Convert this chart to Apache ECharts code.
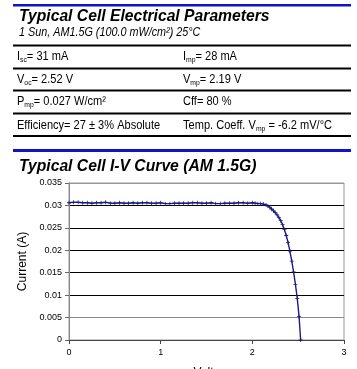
<!DOCTYPE html>
<html>
<head>
<meta charset="utf-8">
<script src="https://cdn.jsdelivr.net/npm/echarts@6/dist/echarts.min.js"></script>
<style>
html,body{margin:0;padding:0;background:#fff;}
#chart{width:357px;height:369px;}
</style>
</head>
<body>
<div id="chart"></div>
<script>
// ---- Data ----
var tableTitle = 'Typical Cell Electrical Parameters';
var tableSubtitle = '1 Sun, AM1.5G (100.0 mW/cm\u00b2) 25\u00b0C';
var leftCells = ['I{sub|sc}= 31 mA', 'V{sub|oc}= 2.52 V', 'P{sub|mp}= 0.027 W/cm\u00b2', 'Efficiency= 27 \u00b1 3% Absolute'];
var rightCells = ['I{sub|mp}= 28 mA', 'V{sub|mp}= 2.19 V', 'Cff= 80 %', 'Temp. Coeff. V{sub|mp} = -6.2 mV/\u00b0C'];
var chartTitle = 'Typical Cell I-V Curve (AM 1.5G)';
var xName = 'Volts';
var yName = 'Current (A)';

var volts = [
  0.00,0.05,0.10,0.15,0.20,0.25,0.30,0.35,0.40,0.45,
  0.50,0.55,0.60,0.65,0.70,0.75,0.80,0.85,0.90,0.95,
  1.00,1.05,1.10,1.15,1.20,1.25,1.30,1.35,1.40,1.45,
  1.50,1.55,1.60,1.65,1.70,1.75,1.80,1.85,1.90,1.95,
  2.00,2.03,2.06,2.09,2.12,2.15,2.17,2.19,2.21,2.23,
  2.25,2.27,2.29,2.31,2.33,2.35,2.37,2.39,2.41,2.43,
  2.45,2.47,2.49,2.51,2.527
];
var current = [
  0.0306,0.0307,0.0307,0.0306,0.0306,0.0305,0.0306,0.0306,0.0307,0.0305,
  0.0305,0.0306,0.0305,0.0305,0.0306,0.0305,0.0306,0.0306,0.0305,0.0305,
  0.0306,0.0304,0.0304,0.0305,0.0305,0.0305,0.0305,0.0306,0.0306,0.0305,
  0.0305,0.0306,0.0304,0.0304,0.0305,0.0305,0.0305,0.0306,0.0306,0.0305,
  0.0306,0.0305,0.0304,0.0304,0.0303,0.0301,0.0299,0.0296,0.0292,0.0288,
  0.0284,0.0279,0.0273,0.0266,0.0257,0.0246,0.0233,0.0217,0.0198,0.0176,
  0.0152,0.0124,0.0093,0.0052,0.0000
];

var FONT = 'Liberation Sans, Arial, sans-serif';
var rowY = [56.7, 79.5, 101.7, 125];
var lineY = [44.5, 67.5, 89.5, 112.5, 135];

var graphics = [];
// blue rules
graphics.push({type:'rect', shape:{x:13, y:4, width:338, height:2.5}, style:{fill:'#1212c8'}, silent:true});
graphics.push({type:'rect', shape:{x:13, y:149, width:338, height:3}, style:{fill:'#1212c8'}, silent:true});
// black rules
lineY.forEach(function(y){
  graphics.push({type:'rect', shape:{x:13, y:y, width:338, height:2}, style:{fill:'#000'}, silent:true});
});
// titles
graphics.push({type:'text', x:19, y:17, style:{text:tableTitle, fontFamily:FONT, fontSize:15.7, fontWeight:'bold', fontStyle:'italic', fill:'#000', align:'left', verticalAlign:'middle'}});
graphics.push({type:'text', x:19, y:33, scaleX:0.9, style:{text:tableSubtitle, fontFamily:FONT, fontSize:12, fontStyle:'italic', fill:'#000', align:'left', verticalAlign:'middle'}});
graphics.push({type:'text', x:19, y:167, style:{text:chartTitle, fontFamily:FONT, fontSize:15.7, fontWeight:'bold', fontStyle:'italic', fill:'#000', align:'left', verticalAlign:'middle'}});
var rich = {sub:{fontFamily:FONT, fontSize:8, fill:'#000', verticalAlign:'bottom'}};
function cell(txt, x, y){
  return {type:'text', x:x, y:y, scaleX:0.85, style:{text:txt, rich:rich, fontFamily:FONT, fontSize:13, lineHeight:15, fill:'#000', align:'left', verticalAlign:'middle'}};
}
for (var i=0;i<leftCells.length;i++){
  graphics.push(cell(leftCells[i], 17, rowY[i]));
  graphics.push(cell(rightCells[i], 183, rowY[i]));
}

var pts = volts.map(function(v,i){ return [v, current[i]]; });

var chart = echarts.init(document.getElementById('chart'), null, {renderer:'canvas'});
chart.setOption({
  backgroundColor:'#fff',
  animation:false,
  grid:{left:69, right:13, top:183, bottom:29, show:true, borderColor:'#999', borderWidth:1, outerBoundsMode:'none', containLabel:false},
  xAxis:{
    type:'value', min:0, max:3, interval:1,
    name:xName, nameLocation:'middle', nameGap:27,
    nameTextStyle:{fontFamily:FONT, fontSize:12, color:'#000'},
    axisLine:{show:true, lineStyle:{color:'#444', width:1}},
    axisTick:{show:true, inside:false, length:4, lineStyle:{color:'#444'}},
    axisLabel:{fontFamily:FONT, fontSize:9, color:'#000', margin:8},
    splitLine:{show:false}
  },
  yAxis:{
    type:'value', min:0, max:0.035, interval:0.005,
    name:yName, nameLocation:'middle', nameGap:38, nameRotate:90,
    nameTextStyle:{fontFamily:FONT, fontSize:12, color:'#000'},
    axisLine:{show:true, lineStyle:{color:'#888', width:1}},
    axisTick:{show:true, inside:false, length:4, lineStyle:{color:'#666'}},
    axisLabel:{fontFamily:FONT, fontSize:9, color:'#000', margin:7},
    splitLine:{show:true, lineStyle:{color:['#555','#888','#000','#000','#000','#000','#000','#999'], width:1}}
  },
  series:[{
    type:'line',
    data:pts,
    showSymbol:true,
    symbol:'path://M2,0H3V2H5V3H3V5H2V3H0V2H2Z',
    symbolSize:4,
    itemStyle:{color:'#1c1c80'},
    lineStyle:{color:'#1c1c80', width:1.4},
    smooth:false
  }],
  graphic:graphics
});
</script>
</body>
</html>
